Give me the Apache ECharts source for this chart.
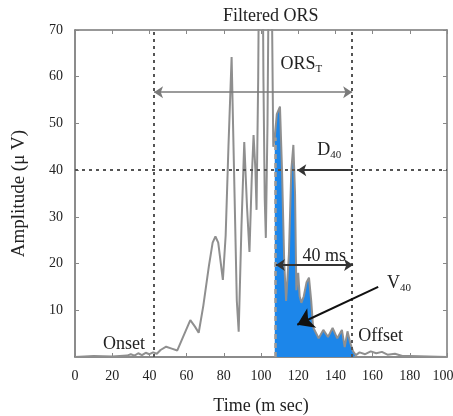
<!DOCTYPE html>
<html>
<head>
<meta charset="utf-8">
<script src="https://cdn.jsdelivr.net/npm/echarts@6/dist/echarts.min.js"></script>
<style>
  html, body { margin: 0; padding: 0; background: #fff; }
  #main { width: 453px; height: 416px; }
</style>
</head>
<body>
<div id="main"></div>
<script>
// signal (time in ms, amplitude in uV)
const times = [0, 10, 20, 28, 30, 32, 34, 36, 38, 40, 42, 44, 46, 49, 52, 55, 58, 62, 64.5, 66.5,
  69, 72, 74, 75.5, 77, 79.5, 81, 82.5, 84.2, 85.5, 87, 88, 89.5, 91, 92.5, 93.8, 95, 96, 97, 97.6,
  98.5, 99.6, 100.5, 101.3, 102, 102.6, 103.5, 104.5, 105.3, 106, 106.6, 107.4, 108.5, 110.2, 111.3,
  112.5, 113.5, 114.2, 115, 116.3, 117.4, 118.3, 119, 120, 120.8, 121.7, 123, 124.5, 125.8, 127, 128,
  129.5, 131, 133.5, 136, 138.5, 141, 143.5, 145, 146.5, 148, 149.5, 151, 153, 156, 159, 162, 165,
  168, 172, 176, 180, 190, 200];
const amps = [0, 0.2, 0.1, 0.3, 0.6, 0.3, 0.8, 0.4, 0.9, 0.6, 1.0, 0.7, 1.5, 2.2, 1.8, 1.4, 4.2, 7.9, 6.5, 5.2,
  11, 19.5, 24.5, 25.8, 24.5, 16.5, 26, 45, 64.2, 40, 12, 5.4, 28, 46, 32, 22.5, 38, 47.5, 40, 31.5,
  60, 120, 110, 60, 34, 25.5, 50, 100, 100, 70, 45, 47, 52, 53.6, 40,
  20, 12, 11.6, 22, 40, 45.4, 35, 14.3, 18, 13, 11.6, 13, 16, 17, 12, 6.4,
  5.2, 4, 5.8, 4.3, 6.2, 4, 5.8, 2.1, 5.5, 3, 1.2, 0.4, 1, 0.6, 1.2, 0.8, 1.1,
  0.5, 0.7, 0.2, 0.2, 0.1, 0];
const xTickLabels = ['0', '20', '40', '60', '80', '100', '120', '140', '160', '180', '100'];
const yTickLabels = ['', '10', '20', '30', '40', '50', '60', '70'];
const onset = 42.5;
const offset = 149;
const last40Start = 107.5;
const shadeEnd = 152;
const level40 = 40;

const signal = times.map((t, i) => [t, amps[i]]);
const shaded = signal.filter(p => p[0] >= last40Start - 0.2 && p[0] <= shadeEnd);

const serif = 'Liberation Serif';
const chart = echarts.init(document.getElementById('main'));

// frame axes (top / right) only draw the box and inner ticks
const frameTick = { inside: true, length: 4, lineStyle: { color: '#888' } };

const option = {
  animation: false,
  backgroundColor: '#fff',
  title: {
    text: 'Filtered ORS',
    left: 218,
    top: 2,
    textStyle: { fontFamily: serif, fontSize: 18, fontWeight: 'normal', color: '#222' }
  },
  grid: { left: 75, right: 6, top: 30, bottom: 59, outerBoundsMode: 'none' },
  xAxis: [
    {
      type: 'value',
      min: 0,
      max: 200,
      interval: 20,
      name: 'Time (m sec)',
      nameLocation: 'middle',
      nameGap: 40,
      nameTextStyle: { fontFamily: serif, fontSize: 18, color: '#222' },
      axisLine: { onZero: false, lineStyle: { color: '#666', width: 1.5 } },
      axisTick: frameTick,
      axisLabel: {
        fontFamily: serif,
        fontSize: 14,
        color: '#222',
        margin: 12,
        formatter: (v) => {
          const i = Math.round(v / 20);
          // last label sits a little left of its tick, as in the figure
          return i === xTickLabels.length - 1 ? '{r|' + xTickLabels[i] + '}' : xTickLabels[i];
        },
        rich: {
          r: { fontFamily: serif, fontSize: 14, color: '#222', padding: [0, 8, 0, 0] }
        }
      },
      splitLine: { show: false }
    },
    {
      type: 'value',
      position: 'top',
      min: 0,
      max: 200,
      interval: 20,
      axisLine: { show: true, onZero: false, lineStyle: { color: '#777', width: 1.5 } },
      axisTick: frameTick,
      axisLabel: { show: false },
      splitLine: { show: false }
    }
  ],
  yAxis: [
    {
      type: 'value',
      min: 0,
      max: 70,
      interval: 10,
      name: 'Amplitude (\u03bc V)',
      nameLocation: 'middle',
      nameGap: 46,
      nameTextStyle: { fontFamily: serif, fontSize: 19, color: '#222' },
      axisLine: { show: true, onZero: false, lineStyle: { color: '#666', width: 1.5 } },
      axisTick: { show: true, inside: true, length: 4, lineStyle: { color: '#888' } },
      axisLabel: {
        fontFamily: serif,
        fontSize: 14,
        color: '#222',
        margin: 12,
        formatter: (v) => yTickLabels[Math.round(v / 10)]
      },
      splitLine: { show: false }
    },
    {
      type: 'value',
      position: 'right',
      min: 0,
      max: 70,
      interval: 10,
      axisLine: { show: true, onZero: false, lineStyle: { color: '#777', width: 1.5 } },
      axisTick: { show: true, inside: true, length: 4, lineStyle: { color: '#888' } },
      axisLabel: { show: false },
      splitLine: { show: false }
    }
  ],
  series: [
    {
      // blue area of the last 40 ms
      name: 'last40',
      type: 'line',
      data: shaded,
      showSymbol: false,
      lineStyle: { width: 0 },
      areaStyle: { color: '#1c86ea', opacity: 1 },
      z: 1,
      markLine: {
        silent: true,
        symbol: 'none',
        label: { show: false },
        lineStyle: { color: '#a09a95', width: 2.5, type: [5, 4] },
        data: [[{ coord: [last40Start, 0] }, { coord: [last40Start, 47] }]]
      }
    },
    {
      name: 'signal',
      type: 'line',
      data: signal,
      showSymbol: false,
      lineStyle: { color: '#8f8f8f', width: 2 },
      z: 3,
      markLine: {
        silent: true,
        symbol: 'none',
        label: { show: false },
        lineStyle: { color: '#555', width: 2, type: [3, 4] },
        data: [
          { xAxis: onset },
          { xAxis: offset },
          { yAxis: level40 }
        ]
      }
    },
    {
      // arrows and notes
      name: 'notes',
      type: 'line',
      data: [],
      z: 5,
      markLine: {
        silent: true,
        label: { show: false },
        symbolSize: 9,
        data: [
          [
            { coord: [onset, 56.7], symbol: 'arrow', lineStyle: { color: '#7a7a7a', width: 1.5, type: 'solid' } },
            { coord: [offset, 56.7], symbol: 'arrow' }
          ],
          [
            { coord: [offset, level40], symbol: 'none', lineStyle: { color: '#333', width: 2, type: 'solid' } },
            { coord: [119.5, level40], symbol: 'arrow' }
          ],
          [
            { coord: [last40Start + 0.5, 19.7], symbol: 'arrow', lineStyle: { color: '#333', width: 2, type: 'solid' } },
            { coord: [offset + 0.5, 19.7], symbol: 'arrow' }
          ],
          [
            { coord: [163, 15], symbol: 'none', symbolSize: 16, lineStyle: { color: '#111', width: 2, type: 'solid' } },
            { coord: [119.5, 6.9], symbol: 'arrow', symbolSize: 16 }
          ]
        ]
      },
      markPoint: {
        silent: true,
        symbol: 'circle',
        symbolSize: 1,
        itemStyle: { color: 'transparent' },
        label: {
          show: true,
          position: 'inside',
          align: 'left',
          verticalAlign: 'middle',
          fontFamily: serif,
          fontSize: 18,
          color: '#222',
          rich: {
            b: { fontFamily: serif, fontSize: 18, color: '#222' },
            s: { fontFamily: serif, fontSize: 11, color: '#222', padding: [10, 0, 0, 0] }
          }
        },
        data: [
          { coord: [110.5, 62.7], value: 'ORS_T', label: { formatter: '{b|ORS}{s|T}' } },
          { coord: [130.3, 44.3], value: 'D40', label: { formatter: '{b|D}{s|40}' } },
          { coord: [122.3, 21.6], value: '40 ms', label: { formatter: '40 ms' } },
          { coord: [167.8, 15.8], value: 'V40', label: { formatter: '{b|V}{s|40}' } },
          { coord: [15, 2.8], value: 'Onset', label: { formatter: 'Onset' } },
          { coord: [152.3, 4.5], value: 'Offset', label: { formatter: 'Offset' } }
        ]
      }
    }
  ]
};

chart.setOption(option);
</script>
</body>
</html>
